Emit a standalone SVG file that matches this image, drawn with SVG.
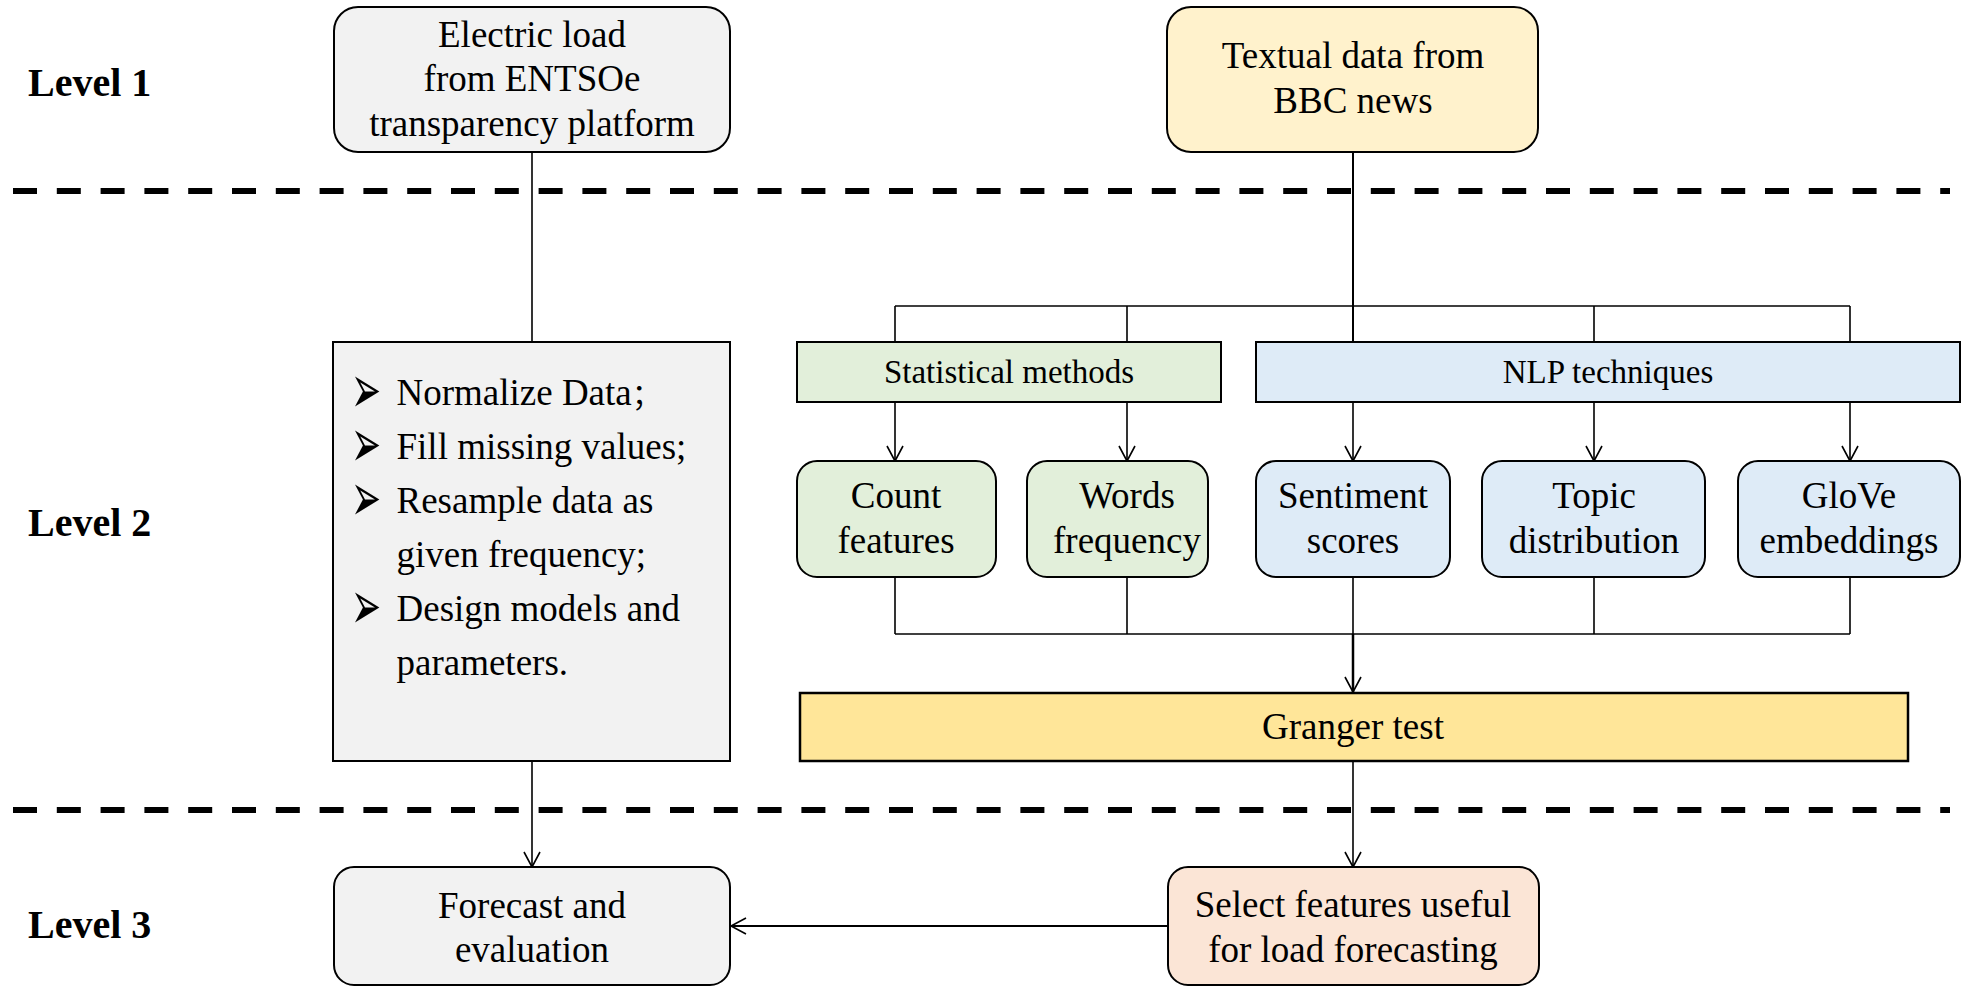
<svg xmlns="http://www.w3.org/2000/svg" width="1962" height="986" viewBox="0 0 1962 986">
<style>
text{font-family:"Liberation Serif","Times New Roman",serif;fill:#000}
.t{font-size:37px;text-anchor:middle}
.s{font-size:33px;text-anchor:middle}
.lv{font-size:40px;font-weight:bold}
.b{font-size:37px}
.bul{font-family:"DejaVu Sans",sans-serif;font-size:36px}
.box{stroke:#000;stroke-width:2}
.ln{fill:none;stroke:#000;stroke-width:1.6}
.dash{fill:none;stroke:#000;stroke-width:6;stroke-dasharray:24 19.8}
</style>
<defs>
<marker id="arr" viewBox="0 0 18 18" refX="16" refY="9" markerWidth="18" markerHeight="18" orient="auto" markerUnits="userSpaceOnUse">
<path d="M1,1 L16,9 L1,17" fill="none" stroke="#000" stroke-width="1.6"/>
</marker>
</defs>

<g id="levels">
<text class="lv" x="28" y="96">Level 1</text>
<text class="lv" x="28" y="536">Level 2</text>
<text class="lv" x="28" y="938">Level 3</text>
</g>

<g id="separators">
<line class="dash" x1="13" y1="191" x2="1950" y2="191"/>
<line class="dash" x1="13" y1="810" x2="1950" y2="810"/>
</g>

<g id="connectors">
<line class="ln" x1="532" y1="152" x2="532" y2="342"/>
<line class="ln" x1="1353" y1="152" x2="1353" y2="342" style="stroke-width:2"/>
<line class="ln" x1="895" y1="306" x2="1850" y2="306"/>
<line class="ln" x1="895" y1="306" x2="895" y2="342"/>
<line class="ln" x1="1127" y1="306" x2="1127" y2="342"/>
<line class="ln" x1="1594" y1="306" x2="1594" y2="342"/>
<line class="ln" x1="1850" y1="306" x2="1850" y2="342"/>
<line class="ln" x1="895" y1="402" x2="895" y2="461" marker-end="url(#arr)"/>
<line class="ln" x1="1127" y1="402" x2="1127" y2="461" marker-end="url(#arr)"/>
<line class="ln" x1="1353" y1="402" x2="1353" y2="461" marker-end="url(#arr)"/>
<line class="ln" x1="1594" y1="402" x2="1594" y2="461" marker-end="url(#arr)"/>
<line class="ln" x1="1850" y1="402" x2="1850" y2="461" marker-end="url(#arr)"/>
<line class="ln" x1="895" y1="577" x2="895" y2="634"/>
<line class="ln" x1="1127" y1="577" x2="1127" y2="634"/>
<line class="ln" x1="1353" y1="577" x2="1353" y2="634"/>
<line class="ln" x1="1594" y1="577" x2="1594" y2="634"/>
<line class="ln" x1="1850" y1="577" x2="1850" y2="634"/>
<line class="ln" x1="895" y1="634" x2="1850" y2="634"/>
<line class="ln" x1="1353" y1="634" x2="1353" y2="692" style="stroke-width:2.5" marker-end="url(#arr)"/>
<line class="ln" x1="1353" y1="761" x2="1353" y2="867" marker-end="url(#arr)"/>
<line class="ln" x1="532" y1="761" x2="532" y2="867" marker-end="url(#arr)"/>
<line class="ln" x1="1168" y1="926" x2="731" y2="926" style="stroke-width:2" marker-end="url(#arr)"/>
</g>

<g id="electric-load">
<rect class="box" x="334" y="7" width="396" height="145" rx="24" fill="#f2f2f2"/>
<text class="t" x="532" y="47">Electric load</text>
<text class="t" x="532" y="91">from ENTSOe</text>
<text class="t" x="532" y="136">transparency platform</text>
</g>

<g id="textual-data">
<rect class="box" x="1167" y="7" width="371" height="145" rx="24" fill="#fff2cc"/>
<text class="t" x="1353" y="68">Textual data from</text>
<text class="t" x="1353" y="113">BBC news</text>
</g>

<g id="preprocess">
<rect class="box" x="333" y="342" width="397" height="419" fill="#f2f2f2"/>
<text class="bul" transform="translate(351,413) scale(1,1.9)">➢</text>
<text class="bul" transform="translate(351,467) scale(1,1.9)">➢</text>
<text class="bul" transform="translate(351,521) scale(1,1.9)">➢</text>
<text class="bul" transform="translate(351,629) scale(1,1.9)">➢</text>
<text class="b" x="396.5" y="405">Normalize Data<tspan font-family="'Noto Sans CJK SC',sans-serif" font-size="30">；</tspan></text>
<text class="b" x="396.5" y="459">Fill missing values;</text>
<text class="b" x="396.5" y="513">Resample data as</text>
<text class="b" x="396.5" y="567">given frequency;</text>
<text class="b" x="396.5" y="621">Design models and</text>
<text class="b" x="396.5" y="675">parameters.</text>
</g>

<g id="statistical-methods">
<rect class="box" x="797" y="342" width="424" height="60" fill="#e2efda"/>
<text class="s" x="1009" y="383">Statistical methods</text>
</g>

<g id="nlp-techniques">
<rect class="box" x="1256" y="342" width="704" height="60" fill="#deebf7"/>
<text class="s" x="1608" y="383">NLP techniques</text>
</g>

<g id="count-features">
<rect class="box" x="797" y="461" width="199" height="116" rx="20" fill="#e2efda"/>
<text class="t" x="896" y="508">Count</text>
<text class="t" x="896" y="553">features</text>
</g>

<g id="words-frequency">
<rect class="box" x="1027" y="461" width="181" height="116" rx="20" fill="#e2efda"/>
<text class="t" x="1127" y="508">Words</text>
<text class="t" x="1127" y="553">frequency</text>
</g>

<g id="sentiment-scores">
<rect class="box" x="1256" y="461" width="194" height="116" rx="20" fill="#deebf7"/>
<text class="t" x="1353" y="508">Sentiment</text>
<text class="t" x="1353" y="553">scores</text>
</g>

<g id="topic-distribution">
<rect class="box" x="1482" y="461" width="223" height="116" rx="20" fill="#deebf7"/>
<text class="t" x="1594" y="508">Topic</text>
<text class="t" x="1594" y="553">distribution</text>
</g>

<g id="glove-embeddings">
<rect class="box" x="1738" y="461" width="222" height="116" rx="20" fill="#deebf7"/>
<text class="t" x="1849" y="508">GloVe</text>
<text class="t" x="1849" y="553">embeddings</text>
</g>

<g id="granger-test">
<rect class="box" x="800" y="693" width="1108" height="68" fill="#ffe699" style="stroke-width:2.5"/>
<text class="t" x="1353" y="739">Granger test</text>
</g>

<g id="forecast">
<rect class="box" x="334" y="867" width="396" height="118" rx="20" fill="#f2f2f2"/>
<text class="t" x="532" y="918">Forecast and</text>
<text class="t" x="532" y="962">evaluation</text>
</g>

<g id="select-features">
<rect class="box" x="1168" y="867" width="371" height="118" rx="20" fill="#fbe5d6"/>
<text class="t" x="1353" y="917">Select features useful</text>
<text class="t" x="1353" y="962">for load forecasting</text>
</g>
</svg>
